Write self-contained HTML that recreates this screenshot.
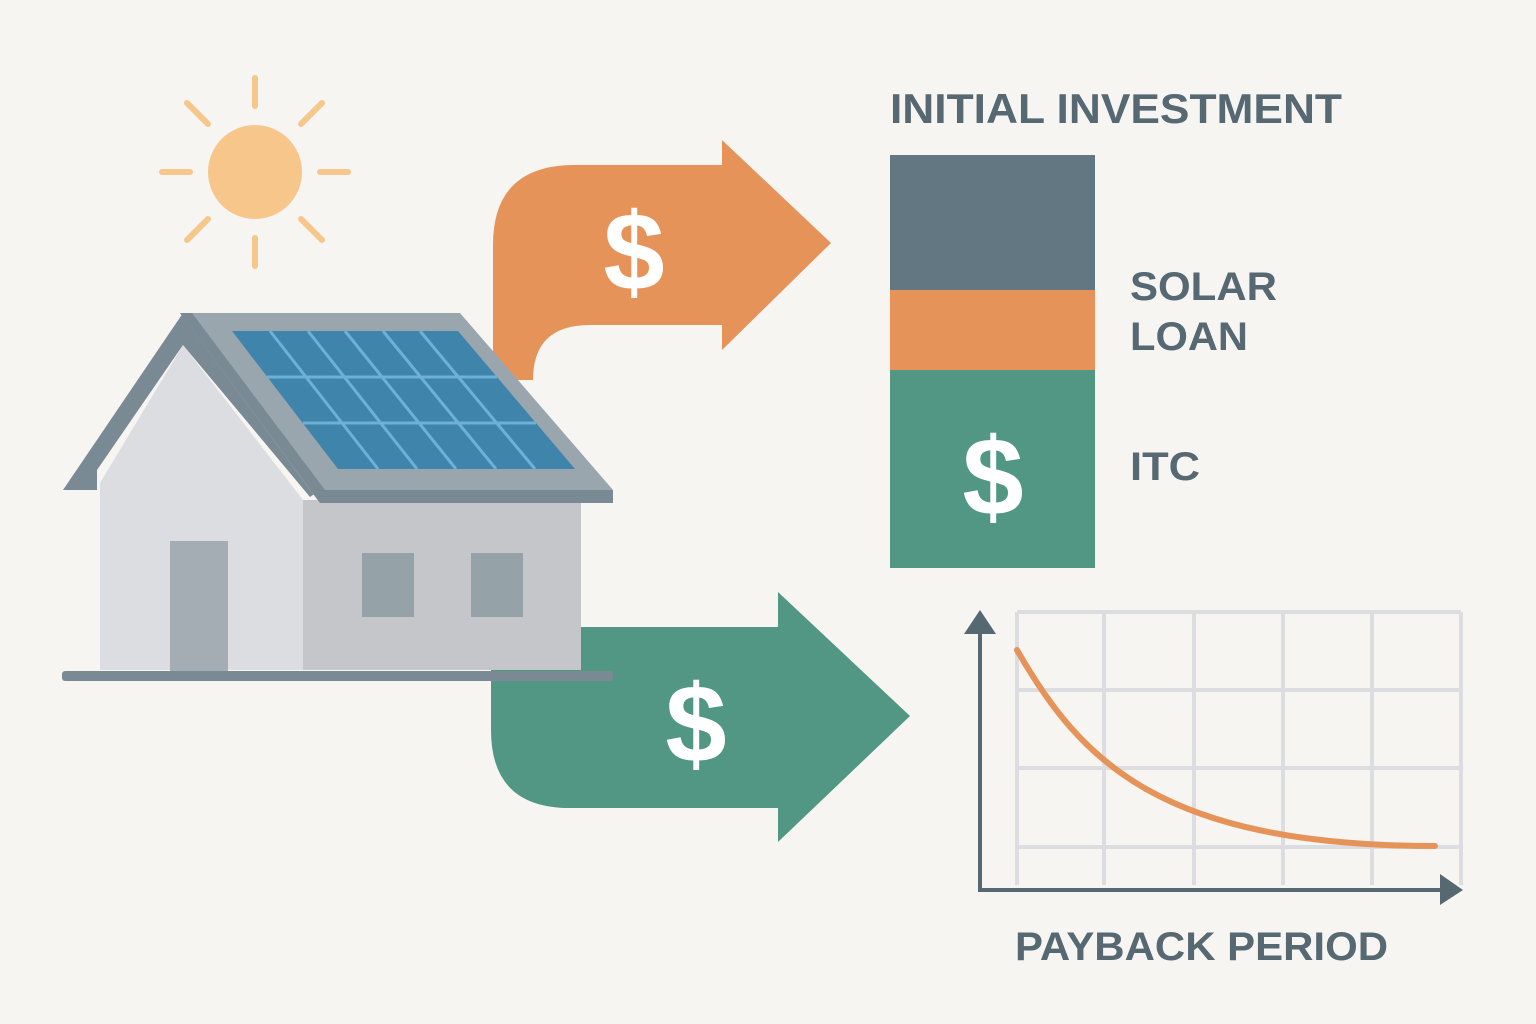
<!DOCTYPE html>
<html><head><style>body{margin:0;background:#f6f5f2}svg{display:block}text{font-family:"Liberation Sans",sans-serif;font-weight:bold}</style></head><body>
<svg width="1536" height="1024" viewBox="0 0 1536 1024">
<rect width="1536" height="1024" fill="#f6f5f2"/>
<g stroke="#f7c68a" stroke-width="6" stroke-linecap="round">
<line x1="255" y1="78" x2="255" y2="106"/><line x1="255" y1="238" x2="255" y2="266"/>
<line x1="162" y1="172" x2="190" y2="172"/><line x1="320" y1="172" x2="348" y2="172"/>
<line x1="187" y1="103" x2="208" y2="124"/><line x1="322" y1="103" x2="301" y2="124"/>
<line x1="187" y1="240" x2="208" y2="219"/><line x1="322" y1="240" x2="301" y2="219"/>
</g>
<circle cx="255" cy="172" r="47" fill="#f7c68a"/>
<path d="M493,380 L493,245 Q493,165 575,165 L722,165 L722,140 L831,243 L722,350 L722,325 L590,325 Q533,325 533,380 Z" fill="#e6935a"/>
<text x="634" y="290" font-size="110" fill="#fff" text-anchor="middle">$</text>
<path d="M491,627 L778,627 L778,592 L910,716 L778,842 L778,808 L570,808 Q491,808 491,730 Z" fill="#519783"/>
<text x="696" y="762" font-size="110" fill="#fff" text-anchor="middle">$</text>
<!-- house -->
<polygon points="100,483 183,345 303,500 303,670 100,670" fill="#dcdde0"/>
<rect x="303" y="500" width="278" height="170" fill="#c5c6ca"/>
<polygon points="63,490 183,313 320,490 310,497 183,345 97,470 97,490" fill="#7a8a94"/>
<polygon points="180,313 460,313 613,490 613,503 320,503 310,490" fill="#9aa6ae"/>
<polygon points="180,313 192,313 325,490 613,490 613,503 320,503" fill="#7a8a94"/>
<polygon points="232,331 458,331 575,469 338,469" fill="#3f84aa"/>
<g stroke="#6fb0d6" stroke-width="3">
<line x1="270" y1="331" x2="378" y2="469"/><line x1="308" y1="331" x2="417" y2="469"/>
<line x1="345" y1="331" x2="456" y2="469"/><line x1="383" y1="331" x2="496" y2="469"/>
<line x1="420" y1="331" x2="535" y2="469"/>
<line x1="267" y1="377" x2="497" y2="377"/><line x1="303" y1="423" x2="536" y2="423"/>
</g>
<rect x="170" y="541" width="58" height="130" fill="#a3adb3"/>
<rect x="362" y="553" width="52" height="64" fill="#95a2a8"/>
<rect x="471" y="553" width="52" height="64" fill="#95a2a8"/>
<rect x="62" y="671" width="551" height="10" rx="3" fill="#7a8a94"/>
<!-- bars -->
<text x="890" y="123" font-size="42" fill="#566872" textLength="452" lengthAdjust="spacingAndGlyphs">INITIAL INVESTMENT</text>
<rect x="890" y="155" width="205" height="135" fill="#637782"/>
<rect x="890" y="290" width="205" height="80" fill="#e6935a"/>
<rect x="890" y="370" width="205" height="198" fill="#519783"/>
<text x="993" y="515" font-size="110" fill="#fff" text-anchor="middle">$</text>
<text x="1130" y="300" font-size="40" fill="#566872" textLength="147" lengthAdjust="spacingAndGlyphs">SOLAR</text>
<text x="1130" y="350" font-size="40" fill="#566872" textLength="118" lengthAdjust="spacingAndGlyphs">LOAN</text>
<text x="1130" y="480" font-size="40" fill="#566872" textLength="70" lengthAdjust="spacingAndGlyphs">ITC</text>
<!-- chart -->
<g stroke="#dcdde0" stroke-width="4">
<line x1="1017" y1="612" x2="1017" y2="885"/><line x1="1104" y1="612" x2="1104" y2="885"/>
<line x1="1194" y1="612" x2="1194" y2="885"/><line x1="1283" y1="612" x2="1283" y2="885"/>
<line x1="1372" y1="612" x2="1372" y2="885"/><line x1="1461" y1="612" x2="1461" y2="885"/>
<line x1="1017" y1="612" x2="1461" y2="612"/><line x1="1017" y1="690" x2="1461" y2="690"/>
<line x1="1017" y1="768" x2="1461" y2="768"/><line x1="1017" y1="847" x2="1461" y2="847"/>
</g>
<path d="M1017,650 C1080,760 1160,846 1435,846" fill="none" stroke="#e6935a" stroke-width="6" stroke-linecap="round"/>
<g stroke="#566872" stroke-width="4" fill="none"><line x1="980" y1="630" x2="980" y2="890"/><line x1="978" y1="890" x2="1442" y2="890"/></g>
<polygon points="964,634 980,610 996,634" fill="#566872"/>
<polygon points="1440,874 1463,890 1440,905" fill="#566872"/>
<text x="1015" y="960" font-size="40" fill="#566872" textLength="373" lengthAdjust="spacingAndGlyphs">PAYBACK PERIOD</text>
</svg></body></html>
